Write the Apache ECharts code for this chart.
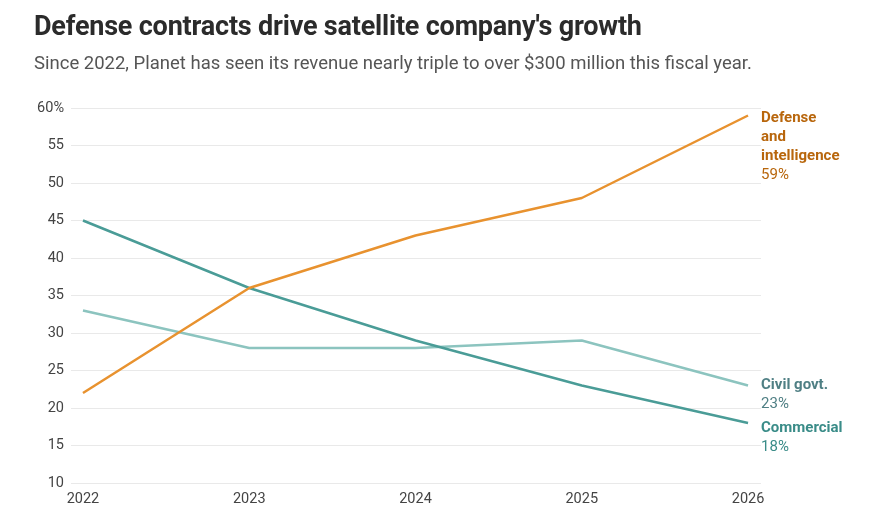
<!DOCTYPE html>
<html>
<head>
<meta charset="utf-8">
<script src="https://cdn.jsdelivr.net/npm/echarts@6/dist/echarts.min.js"></script>
<style>
  html,body{margin:0;padding:0;background:#fff;}
  #title{position:absolute;left:34px;top:10px;font-family:Roboto,"Noto Sans",sans-serif;font-weight:700;font-size:27px;color:#2b2b2b;letter-spacing:-0.2px;}
  #sub{position:absolute;left:34px;top:52px;font-family:Roboto,"Noto Sans",sans-serif;font-size:18.5px;color:#555;}
  #chart{position:absolute;left:0;top:0;width:883px;height:532px;}
</style>
</head>
<body>
<div id="chart"></div>
<div id="title">Defense contracts drive satellite company's growth</div>
<div id="sub">Since 2022, Planet has seen its revenue nearly triple to over $300 million this fiscal year.</div>
<script>
const years = [2022, 2023, 2024, 2025, 2026];
const defense = [22, 36, 43, 48, 59];
const commercial = [45, 36, 29, 23, 18];
const civil = [33, 28, 28, 29, 23];
const yTicks = [10, 15, 20, 25, 30, 35, 40, 45, 50, 55, 60];

const chart = echarts.init(document.getElementById('chart'));
const font = 'Roboto, "Noto Sans", sans-serif';
function pts(arr){ return years.map((y,i)=>[y, arr[i]]); }
function endLabel(name, pct, color, offY){
  return {
    show: true,
    distance: 13,
    offset: [0, offY],
    fontFamily: font,
    formatter: () => name.split('\n').map(s=>'{b|'+s+'}').join('\n') + '\n{v|' + pct + '%}',
    rich: {
      b: {fontWeight: 700, fontSize: 15, color: color, lineHeight: 19, fontFamily: font},
      v: {fontSize: 15, color: color, lineHeight: 19, fontFamily: font}
    }
  };
}
chart.setOption({
  animation: false,
  grid: {left: 71, right: 122, top: 108, bottom: 49, containLabel: false},
  xAxis: {
    type: 'value', min: 2021.928, max: 2026.078,
    axisLine: {show: false}, axisTick: {show: false}, splitLine: {show: false},
    axisLabel: {customValues: years, formatter: v => String(v), fontFamily: font, fontSize: 14.5, color: '#444', margin: 9}
  },
  yAxis: {
    type: 'value', min: 10, max: 60, interval: 5,
    axisLine: {show: false}, axisTick: {show: false},
    splitLine: {lineStyle: {color: '#e9e9e9', width: 1}},
    axisLabel: {formatter: v => v === 60 ? '60%' : String(v), fontFamily: font, fontSize: 14.5, color: '#444', margin: 7}
  },
  series: [
    {type: 'line', data: pts(civil), showSymbol: false, lineStyle: {color: '#8cc4bf', width: 2.5},
     endLabel: endLabel('Civil govt.', civil[4], '#4f7f84', 9)},
    {type: 'line', data: pts(commercial), showSymbol: false, lineStyle: {color: '#4a9c97', width: 2.5},
     endLabel: endLabel('Commercial', commercial[4], '#3a8c88', 15)},
    {type: 'line', data: pts(defense), showSymbol: false, lineStyle: {color: '#e8922f', width: 2.5},
     endLabel: endLabel('Defense\nand\nintelligence', defense[4], '#b8660c', 31)}
  ]
});
</script>
</body>
</html>
